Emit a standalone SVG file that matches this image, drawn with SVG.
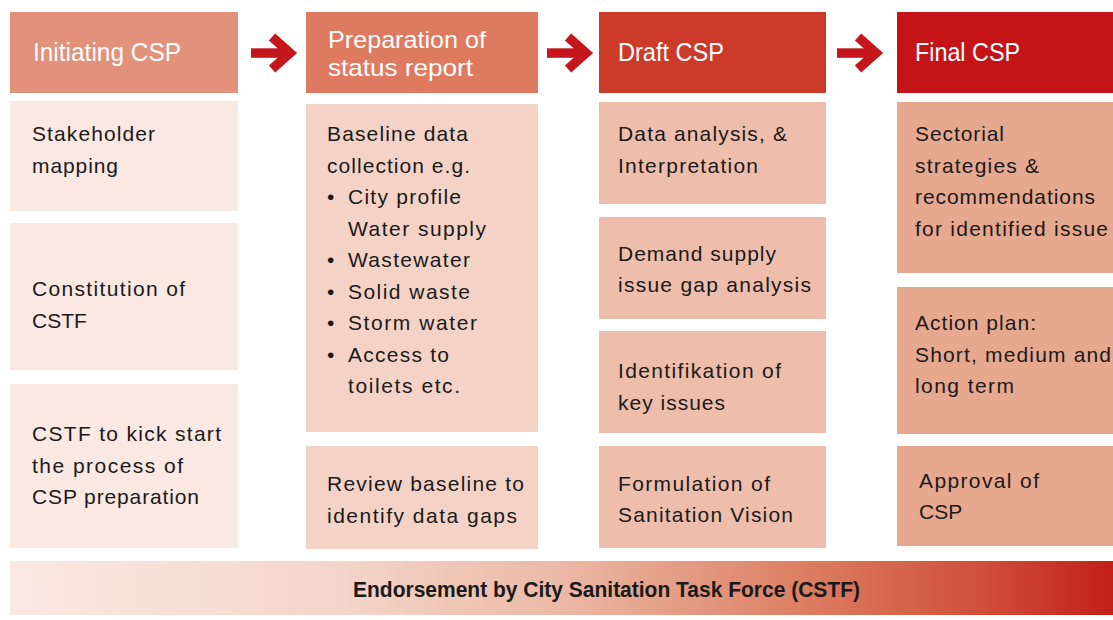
<svg xmlns="http://www.w3.org/2000/svg" width="1113" height="620" viewBox="0 0 1113 620">
<style>
text{font-family:"Liberation Sans",Arial,sans-serif}
.h{font-size:26px;fill:#ffffff}
.h2{font-size:24px;fill:#ffffff}
.b{font-size:21px;fill:#1a1a1a}
.f{font-size:22px;font-weight:bold;fill:#1a1a1a}
.c1{fill:#fae8e2}.c2{fill:#f4d3c6}.c3{fill:#eebdab}.c4{fill:#e7a890}
.arrow{fill:#c4161c}
.arrowhead{fill:none;stroke:#c4161c;stroke-width:9.5;stroke-linejoin:miter;stroke-miterlimit:10}
</style>
<defs>
<linearGradient id="gbar" x1="0" y1="0" x2="1" y2="0">
<stop offset="0" stop-color="#fae9e3"/>
<stop offset="0.3" stop-color="#f4d5c9"/>
<stop offset="0.5" stop-color="#ebb9a6"/>
<stop offset="0.72" stop-color="#dc7e62"/>
<stop offset="0.88" stop-color="#d04f3b"/>
<stop offset="1" stop-color="#c21f1a"/>
</linearGradient>
<g id="arr">
<rect class="arrow" x="251" y="48.3" width="38" height="9.5"/>
<polyline class="arrowhead" points="272,37 290,53 272,69"/>
</g>
</defs>
<rect width="1113" height="620" fill="#ffffff"/>

<g id="connectors">
<use href="#arr"/>
<use href="#arr" x="296"/>
<use href="#arr" x="586"/>
</g>

<g id="h1"><rect x="10" y="12" width="228" height="81" fill="#e2917a"/><text class="h" x="33" y="61" textLength="148" lengthAdjust="spacingAndGlyphs">Initiating CSP</text></g>
<g id="h2"><rect x="306" y="12" width="232" height="81" fill="#de7a5f"/><text class="h2" x="328" y="48" textLength="158" lengthAdjust="spacingAndGlyphs">Preparation of</text><text class="h2" x="328" y="76" textLength="145" lengthAdjust="spacingAndGlyphs">status report</text></g>
<g id="h3"><rect x="599" y="12" width="227" height="81" fill="#cc3b29"/><text class="h" x="618" y="61" textLength="106" lengthAdjust="spacingAndGlyphs">Draft CSP</text></g>
<g id="h4"><rect x="897" y="12" width="216" height="81" fill="#c41418"/><text class="h" x="915" y="61" textLength="105" lengthAdjust="spacingAndGlyphs">Final CSP</text></g>

<g id="n1a"><rect class="c1" x="10" y="101" width="228" height="110"/><text class="b" x="32" y="141" textLength="123">Stakeholder</text><text class="b" x="32" y="172.5" textLength="86">mapping</text></g>
<g id="n1b"><rect class="c1" x="10" y="223" width="228" height="147"/><text class="b" x="32" y="296" textLength="153">Constitution of</text><text class="b" x="32" y="327.5">CSTF</text></g>
<g id="n1c"><rect class="c1" x="10" y="384" width="228" height="164"/><text class="b" x="32" y="441" textLength="189">CSTF to kick start</text><text class="b" x="32" y="472.5" textLength="151">the process of</text><text class="b" x="32" y="504" textLength="167">CSP preparation</text></g>

<g id="n2a"><rect class="c2" x="306" y="104" width="232" height="328"/>
<text class="b" x="327" y="141" textLength="141">Baseline data</text>
<text class="b" x="327" y="172.5" textLength="143">collection e.g.</text>
<text class="b" x="327" y="204">•</text><text class="b" x="348" y="204" textLength="113">City profile</text>
<text class="b" x="348" y="235.5" textLength="138">Water supply</text>
<text class="b" x="327" y="267">•</text><text class="b" x="348" y="267" textLength="122">Wastewater</text>
<text class="b" x="327" y="298.5">•</text><text class="b" x="348" y="298.5" textLength="122">Solid waste</text>
<text class="b" x="327" y="330">•</text><text class="b" x="348" y="330" textLength="129">Storm water</text>
<text class="b" x="327" y="361.5">•</text><text class="b" x="348" y="361.5" textLength="101">Access to</text>
<text class="b" x="348" y="393" textLength="112">toilets etc.</text></g>
<g id="n2b"><rect class="c2" x="306" y="446" width="232" height="103"/><text class="b" x="327" y="491" textLength="197">Review baseline to</text><text class="b" x="327" y="522.5" textLength="190">identify data gaps</text></g>

<g id="n3a"><rect class="c3" x="599" y="102" width="227" height="102"/><text class="b" x="618" y="141" textLength="169">Data analysis, &amp;</text><text class="b" x="618" y="172.5" textLength="140">Interpretation</text></g>
<g id="n3b"><rect class="c3" x="599" y="217" width="227" height="102"/><text class="b" x="618" y="260.5" textLength="158">Demand supply</text><text class="b" x="618" y="292" textLength="193">issue gap analysis</text></g>
<g id="n3c"><rect class="c3" x="599" y="331" width="227" height="102"/><text class="b" x="618" y="378" textLength="163">Identifikation of</text><text class="b" x="618" y="409.5" textLength="107">key issues</text></g>
<g id="n3d"><rect class="c3" x="599" y="446" width="227" height="102"/><text class="b" x="618" y="490.5" textLength="152">Formulation of</text><text class="b" x="618" y="522" textLength="175">Sanitation Vision</text></g>

<g id="n4a"><rect class="c4" x="897" y="102" width="216" height="171"/><text class="b" x="915" y="141" textLength="89">Sectorial</text><text class="b" x="915" y="172.5" textLength="124">strategies &amp;</text><text class="b" x="915" y="204" textLength="180">recommendations</text><text class="b" x="915" y="235.5" textLength="193">for identified issue</text></g>
<g id="n4b"><rect class="c4" x="897" y="287" width="216" height="147"/><text class="b" x="915" y="330" textLength="121">Action plan:</text><text class="b" x="915" y="361.5" textLength="196">Short, medium and</text><text class="b" x="915" y="393" textLength="99">long term</text></g>
<g id="n4c"><rect class="c4" x="897" y="446" width="216" height="100"/><text class="b" x="919" y="487.5" textLength="120">Approval of</text><text class="b" x="919" y="519">CSP</text></g>

<g id="bar"><rect x="10" y="561" width="1103" height="54" fill="url(#gbar)"/><text class="f" x="353" y="597" textLength="507" lengthAdjust="spacingAndGlyphs">Endorsement by City Sanitation Task Force (CSTF)</text></g>
</svg>
